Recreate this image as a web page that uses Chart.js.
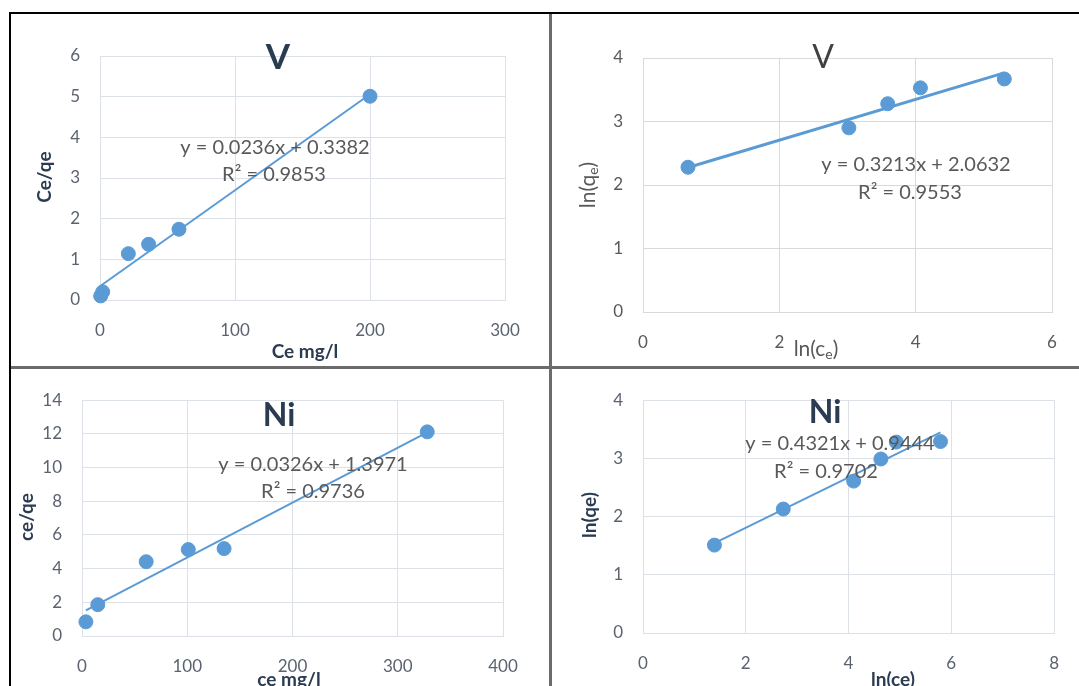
<!DOCTYPE html>
<html>
<head>
<meta charset="utf-8">
<script src="https://cdn.jsdelivr.net/npm/chart.js@4/dist/chart.umd.min.js"></script>
<style>
  body { margin: 0; background: #fff; width: 1079px; height: 686px; overflow: hidden; position: relative; }
  canvas { position: absolute; }
  .line { position: absolute; }
</style>
</head>
<body>
<div class="line" style="left:9px;top:12px;width:1070px;height:2px;background:#000"></div>
<div class="line" style="left:9px;top:12px;width:2px;height:674px;background:#000"></div>
<div class="line" style="left:549px;top:14px;width:3px;height:672px;background:#6b6b6b"></div>
<div class="line" style="left:11px;top:366px;width:1068px;height:3px;background:#6b6b6b"></div>

<canvas id="c1" width="538" height="350" style="left:11px;top:15px"></canvas>
<canvas id="c2" width="526" height="350" style="left:553px;top:15px"></canvas>
<canvas id="c3" width="538" height="316" style="left:11px;top:370px"></canvas>
<canvas id="c4" width="526" height="316" style="left:553px;top:370px"></canvas>

<script>
// V, Langmuir: Ce/qe vs Ce
const vLangX = [0.5, 2, 21, 36, 58.5, 200];
const vLangY = [0.1, 0.2, 1.14, 1.37, 1.74, 5.01];
// V, Freundlich: ln(qe) vs ln(ce)
const vFreuX = [0.66, 3.02, 3.59, 4.07, 5.3];
const vFreuY = [2.28, 2.9, 3.28, 3.53, 3.67];
// Ni, Langmuir
const niLangX = [3.7, 15, 61, 101, 135, 328];
const niLangY = [0.84, 1.86, 4.41, 5.13, 5.19, 12.12];
// Ni, Freundlich
const niFreuX = [1.39, 2.73, 4.10, 4.63, 4.93, 5.79];
const niFreuY = [1.51, 2.13, 2.61, 2.99, 3.28, 3.29];

// trendlines: [slope, intercept]
const vLangFit = [0.0236, 0.3382];
const vFreuFit = [0.3213, 2.0632];
const niLangFit = [0.0326, 1.3971];
const niFreuFit = [0.4321, 0.9444];

const blue = '#5b9bd5';
const FONT = 'Lato, "DejaVu Sans", sans-serif';

function pts(xs, ys) { return xs.map((x, i) => ({x: x, y: ys[i]})); }
function fitLine(xs, fit) {
  const a = Math.min(...xs), b = Math.max(...xs);
  return [{x: a, y: fit[0] * a + fit[1]}, {x: b, y: fit[0] * b + fit[1]}];
}

// free text drawn on top of the chart (titles, equations, axis names)
// parts: [text, isSubscript] pieces, so ln(qe) can have a lowered e
const textPlugin = {
  id: 'texts',
  afterDraw(chart, args, opts) {
    const ctx = chart.ctx;
    (opts.items || []).forEach(t => {
      ctx.save();
      ctx.fillStyle = t.color;
      ctx.textBaseline = 'middle';
      ctx.translate(t.x - opts.ox, t.y - opts.oy);
      if (t.rot) ctx.rotate(-Math.PI / 2);
      const parts = t.parts || [[t.text, false]];
      const subFont = t.font.replace(/(\d+)px/, (m, n) => Math.round(n * 0.65) + 'px');
      let w = 0;
      parts.forEach(p => { ctx.font = p[1] ? subFont : t.font; w += ctx.measureText(p[0]).width; });
      let x = -w / 2;
      ctx.textAlign = 'left';
      parts.forEach(p => {
        ctx.font = p[1] ? subFont : t.font;
        ctx.fillText(p[0], x, p[1] ? 5 : 0);
        x += ctx.measureText(p[0]).width;
      });
      ctx.restore();
    });
  }
};

function makeChart(id, p) {
  new Chart(document.getElementById(id), {
    type: 'scatter',
    data: {
      datasets: [
        {
          data: pts(p.xs, p.ys),
          backgroundColor: blue,
          borderColor: blue,
          pointRadius: 7,
          pointHoverRadius: 7,
          clip: false,
          order: 1
        },
        {
          data: fitLine(p.xs, p.fit),
          showLine: true,
          borderColor: blue,
          borderWidth: p.lw,
          pointRadius: 0,
          clip: false,
          order: 2
        }
      ]
    },
    options: {
      responsive: false,
      animation: false,
      events: [],
      layout: { padding: { left: 0, top: p.pt, right: p.pr, bottom: 0 } },
      plugins: {
        legend: { display: false },
        tooltip: { enabled: false },
        texts: { items: p.texts, ox: p.ox, oy: p.oy }
      },
      scales: {
        x: {
          type: 'linear', min: p.xr[0], max: p.xr[1],
          ticks: { stepSize: p.xr[2], autoSkip: false, padding: 20, color: p.tc, font: { family: FONT, size: 17 } },
          grid: { color: p.gc, drawTicks: false },
          border: { color: p.gc },
          afterFit: s => { s.height = p.hx; }
        },
        y: {
          type: 'linear', min: p.yr[0], max: p.yr[1],
          ticks: { stepSize: p.yr[2], autoSkip: false, padding: 20, color: p.tc, font: { family: FONT, size: 17 } },
          grid: { color: p.gc, drawTicks: false },
          border: { color: p.gc },
          afterFit: s => { s.width = p.wy; }
        }
      }
    },
    plugins: [textPlugin]
  });
}

const navy = '#2b3b51';
const gray = '#595959';
const eqFont = '20px ' + FONT;
const axBold = 'bold 19px ' + FONT;

makeChart('c1', {
  xs: vLangX, ys: vLangY, fit: vLangFit, lw: 2,
  xr: [0, 300, 100], yr: [0, 6, 1],
  ox: 11, oy: 15, wy: 89, pt: 41, pr: 44, hx: 65,
  gc: '#dce1e8', tc: '#5b6370',
  texts: [
    {text: 'V', x: 278, y: 58, font: 'bold 35px ' + FONT, color: navy},
    {text: 'y = 0.0236x + 0.3382', x: 275, y: 148, font: eqFont, color: gray},
    {text: 'R² = 0.9853', x: 274, y: 175, font: eqFont, color: gray},
    {text: 'Ce/qe', x: 45, y: 177, font: axBold, color: navy, rot: true},
    {text: 'Ce mg/l', x: 305, y: 352, font: axBold, color: navy}
  ]
});

makeChart('c2', {
  xs: vFreuX, ys: vFreuY, fit: vFreuFit, lw: 3,
  xr: [0, 6, 2], yr: [0, 4, 1],
  ox: 553, oy: 15, wy: 90, pt: 43, pr: 27, hx: 53,
  gc: '#d9d9d9', tc: '#595959',
  texts: [
    {text: 'V', x: 823, y: 58, font: '32px ' + FONT, color: '#404040'},
    {text: 'y = 0.3213x + 2.0632', x: 916, y: 165, font: eqFont, color: gray},
    {text: 'R² = 0.9553', x: 910, y: 193, font: eqFont, color: gray},
    {parts: [['ln(q', false], ['e', true], [')', false]], x: 588, y: 185, font: '21px ' + FONT, color: gray, rot: true},
    {parts: [['ln(c', false], ['e', true], [')', false]], x: 816, y: 349, font: '21px ' + FONT, color: gray}
  ]
});

makeChart('c3', {
  xs: niLangX, ys: niLangY, fit: niLangFit, lw: 2,
  xr: [0, 400, 100], yr: [0, 14, 2],
  ox: 11, oy: 370, wy: 71, pt: 28, pr: 46, hx: 50,
  gc: '#dce1e8', tc: '#5b6370',
  texts: [
    {text: 'Ni', x: 279, y: 416, font: 'bold 32px ' + FONT, color: navy},
    {text: 'y = 0.0326x + 1.3971', x: 313, y: 465, font: eqFont, color: gray},
    {text: 'R² = 0.9736', x: 313, y: 492, font: eqFont, color: gray},
    {text: 'ce/qe', x: 27, y: 517, font: axBold, color: navy, rot: true},
    {text: 'ce mg/l', x: 289, y: 680, font: axBold, color: navy}
  ]
});

makeChart('c4', {
  xs: niFreuX, ys: niFreuY, fit: niFreuFit, lw: 2,
  xr: [0, 8, 2], yr: [0, 4, 1],
  ox: 553, oy: 370, wy: 90, pt: 25, pr: 22, hx: 53,
  gc: '#dce1e8', tc: '#5b6370',
  texts: [
    {text: 'Ni', x: 825, y: 413, font: 'bold 32px ' + FONT, color: navy},
    {text: 'y = 0.4321x + 0.9444', x: 840, y: 444, font: eqFont, color: gray},
    {text: 'R² = 0.9702', x: 826, y: 472, font: eqFont, color: gray},
    {text: 'ln(qe)', x: 590, y: 515, font: axBold, color: navy, rot: true},
    {text: 'ln(ce)', x: 893, y: 680, font: axBold, color: navy}
  ]
});
</script>
</body>
</html>
